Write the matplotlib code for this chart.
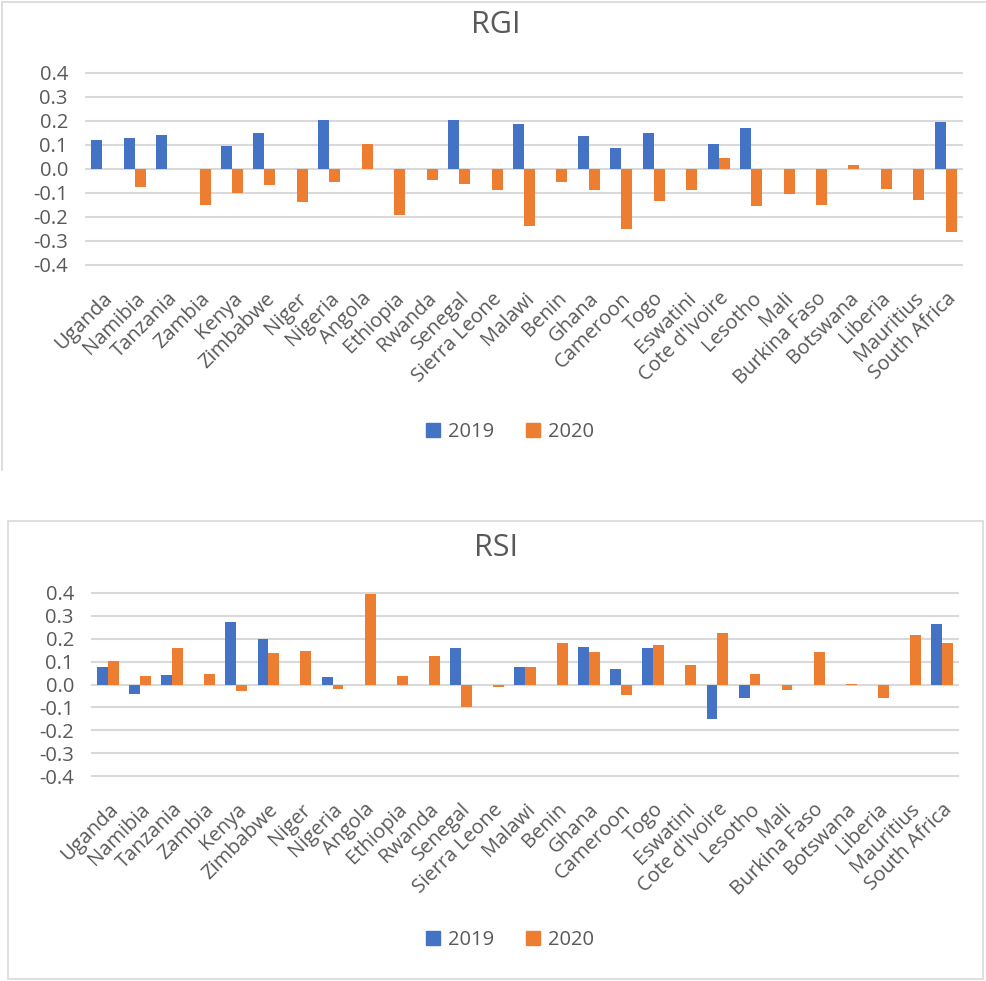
import matplotlib
matplotlib.use("Agg")
import matplotlib.pyplot as plt
import numpy as np
from matplotlib.lines import Line2D
from matplotlib.patches import Rectangle

countries = ["Uganda", "Namibia", "Tanzania", "Zambia", "Kenya", "Zimbabwe", "Niger",
             "Nigeria", "Angola", "Ethiopia", "Rwanda", "Senegal", "Sierra Leone", "Malawi",
             "Benin", "Ghana", "Cameroon", "Togo", "Eswatini", "Cote d'Ivoire", "Lesotho",
             "Mali", "Burkina Faso", "Botswana", "Liberia", "Mauritius", "South Africa"]

rgi_2019 = [0.122, 0.129, 0.143, 0, 0.097, 0.150, 0, 0.205, 0, 0, 0, 0.204, 0, 0.188,
            0, 0.136, 0.088, 0.150, 0, 0.104, 0.171, 0, 0, 0, 0, 0, 0.194]
rgi_2020 = [0.002, -0.076, 0.002, -0.150, -0.100, -0.065, -0.136, -0.054, 0.103, -0.190,
            -0.044, -0.061, -0.086, -0.236, -0.054, -0.086, -0.250, -0.135, -0.086, 0.046,
            -0.153, -0.103, -0.150, 0.017, -0.083, -0.128, -0.264]

rsi_2019 = [0.075, -0.042, 0.041, 0, 0.272, 0.199, 0, 0.031, 0, 0, 0, 0.161, 0, 0.076,
            0, 0.163, 0.067, 0.158, 0, -0.152, -0.061, 0, 0, 0, 0, 0, 0.266]
rsi_2020 = [0.102, 0.038, 0.160, 0.045, -0.029, 0.136, 0.145, -0.018, 0.395, 0.038,
            0.124, -0.100, -0.013, 0.076, 0.182, 0.142, -0.044, 0.174, 0.085, 0.223,
            0.044, -0.022, 0.142, 0.002, -0.060, 0.218, 0.180]

yticks = [-0.4, -0.3, -0.2, -0.1, 0.0, 0.1, 0.2, 0.3, 0.4]

BLUE = "#4472C4"
ORANGE = "#ED7D31"
GRID = "#D9D9D9"
TXT = "#595959"

plt.rcParams["font.family"] = ["Open Sans", "DejaVu Sans"]
plt.rcParams["axes.unicode_minus"] = False

W, H = 987, 981
fig = plt.figure(figsize=(W / 100, H / 100), dpi=100)


def px_axes(x0, x1, ytop, ybot):
    return fig.add_axes([x0 / W, 1 - ybot / H, (x1 - x0) / W, (ybot - ytop) / H])


def draw(ax, v19, v20, title, title_y, legend_y):
    x = np.arange(len(countries))
    w = 0.34
    ax.bar(x - w / 2, v19, w, color=BLUE, label="2019", zorder=3)
    ax.bar(x + w / 2, v20, w, color=ORANGE, label="2020", zorder=3)
    ax.set_xlim(-0.5, len(countries) - 0.5)
    ax.set_ylim(-0.4, 0.4)
    ax.set_yticks(yticks)
    ax.set_yticklabels(["{:.1f}".format(t) for t in yticks])
    for t in yticks:
        ax.axhline(t, color=GRID, lw=1.5, zorder=1, clip_on=False)
    for s in ax.spines.values():
        s.set_visible(False)
    ax.tick_params(axis="y", length=0, labelsize=14.5, labelcolor=TXT, pad=13)
    ax.set_xticks(x)
    ax.set_xticklabels(countries, rotation=45, ha="right", rotation_mode="anchor")
    ax.tick_params(axis="x", length=0, labelsize=14.5, labelcolor=TXT, pad=17)
    fig.text(496 / W, 1 - title_y / H, title, ha="center", va="center", fontsize=22,
             color=TXT)
    h = [Rectangle((0, 0), 1, 1, color=BLUE), Rectangle((0, 0), 1, 1, color=ORANGE)]
    fig.legend(h, ["2019", "2020"], loc="center",
               bbox_to_anchor=(510 / W, 1 - legend_y / H),
               ncol=2, frameon=False, fontsize=14.5, labelcolor=TXT, handlelength=0.7,
               handleheight=0.7, handletextpad=0.4, columnspacing=1.6)


ax1 = px_axes(86, 962, 73, 265)
draw(ax1, rgi_2019, rgi_2020, "RGI", 25, 432)

ax2 = px_axes(92, 958, 593, 776)
draw(ax2, rsi_2019, rsi_2020, "RSI", 548, 940)

# chart borders
fig.add_artist(Line2D([2 / W, 1], [1 - 2 / H, 1 - 2 / H], color=GRID, lw=1.2))
fig.add_artist(Line2D([2 / W, 2 / W], [1 - 2 / H, 1 - 470 / H], color=GRID, lw=1.2))
fig.add_artist(Rectangle((8 / W, 1 - 979 / H), 975 / W, 458 / H, fill=False,
                         edgecolor=GRID, lw=1.2))

fig.savefig("out.png", dpi=100)
